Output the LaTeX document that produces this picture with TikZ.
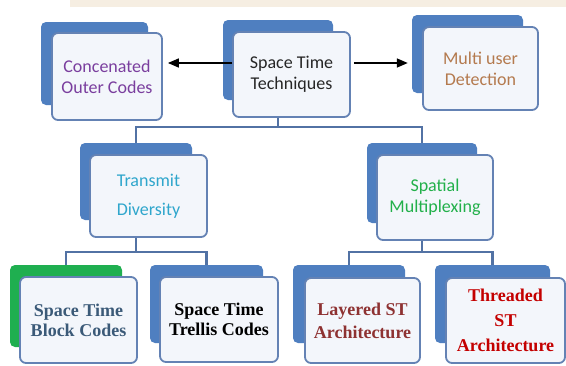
\documentclass[tikz,border=0pt]{standalone}
\usepackage{fontspec}
\setmainfont{Liberation Serif}
\newfontfamily\calfont{Carlito}
\usetikzlibrary{arrows.meta}

\definecolor{backblue}{HTML}{4F7FC0}
\definecolor{backgreen}{HTML}{1FAF50}
\definecolor{edgeblue}{HTML}{6482B4}
\definecolor{paleblue}{HTML}{F3F6FB}
\definecolor{linkblue}{HTML}{5272A4}
\definecolor{beige}{HTML}{F6EEE2}
\definecolor{purpletext}{HTML}{7A3E9E}
\definecolor{darktext}{HTML}{262626}
\definecolor{tantext}{HTML}{B47A4E}
\definecolor{cyantext}{HTML}{2FA6CC}
\definecolor{greentext}{HTML}{22B04A}
\definecolor{slatetext}{HTML}{3B5A78}
\definecolor{brickred}{HTML}{8E3232}
\definecolor{redtext}{HTML}{C40000}

\begin{document}
\begin{tikzpicture}[x=1pt,y=-1pt,
  backbox/.style={fill=backblue, rounded corners=5pt, inner sep=0pt},
  frontbox/.style={draw=edgeblue, line width=1.8pt, fill=paleblue, rounded corners=6pt, inner sep=0pt, align=center},
  sanstext/.style={font=\calfont\fontsize{18}{21}\selectfont},
  seriftext/.style={font=\bfseries\fontsize{18}{20}\selectfont},
  link/.style={draw=linkblue, line width=2.2pt},
  jump/.style={draw=black, line width=1.6pt, -{Triangle[length=11pt,width=9pt]}}
]

% page and faint top band
\useasboundingbox (0,0) rectangle (566,365);
\fill[white] (0,0) rectangle (566,365);
\fill[beige] (70,0) rectangle (566,7);

% top row
\node[backbox, minimum width=107, minimum height=83] (concb) at (94.5,63.5) {};
\node[frontbox, sanstext, text=purpletext, minimum width=110, minimum height=87] (conc) at (107,76.5) {Concenated\\Outer Codes};

\node[backbox, minimum width=110, minimum height=80] (sttb) at (278,60) {};
\node[frontbox, sanstext, text=darktext, minimum width=117, minimum height=85] (stt) at (291.5,74.5) {Space Time\\Techniques};

\node[backbox, minimum width=111, minimum height=78] (mudb) at (467.5,54) {};
\node[frontbox, sanstext, text=tantext, minimum width=115, minimum height=83] (mud) at (480.5,68.5) {Multi user\\Detection};

% arrows
\draw[jump, shorten >=5pt] ([yshift=11.5pt]stt.west) -- ([yshift=11.5pt]stt.west -| conc.east);
\draw[jump, shorten <=3pt, shorten >=4pt] ([yshift=11.5pt]stt.east) -- ([yshift=11.5pt]stt.east -| mudb.west);

% middle row
\node[backbox, minimum width=112, minimum height=77] (tdb) at (136,181.5) {};
\node[frontbox, sanstext, text=cyantext, minimum width=117, minimum height=82] (td) at (148.5,196) {Transmit\\[8pt]Diversity};

\node[backbox, minimum width=110, minimum height=80] (smb) at (422,183) {};
\node[frontbox, sanstext, text=greentext, minimum width=116, minimum height=85] (sm) at (435,197.5) {Spatial\\Multiplexing};

% bottom row
\node[backbox, fill=backgreen, minimum width=112, minimum height=82] (stbcb) at (66,306) {};
\node[frontbox, seriftext, text=slatetext, minimum width=117, minimum height=86] (stbc) at (78.5,320) {Space Time\\Block Codes};

\node[backbox, minimum width=113, minimum height=78] (sttcb) at (206.5,304) {};
\node[frontbox, seriftext, text=black, minimum width=118, minimum height=85] (sttc) at (219,319.5) {Space Time\\Trellis Codes};

\node[backbox, minimum width=112, minimum height=78] (lstb) at (349,304) {};
\node[frontbox, seriftext, text=brickred, minimum width=115, minimum height=85] (lst) at (362.5,320.5) {Layered ST\\[3pt]Architecture};

\node[backbox, minimum width=115, minimum height=78] (tstb) at (492.5,304) {};
\node[frontbox, seriftext, text=redtext, minimum width=119, minimum height=85] (tst) at (505.5,320.5) {Threaded\\[5pt]ST\\[5pt]Architecture};

% tree links
\coordinate (t1) at (278,127);
\draw[link] (sttb |- stt.south) -- (t1);
\draw[link] (tdb.north) |- (t1) -| (smb.north);

\coordinate (t2) at (136,252);
\draw[link] (tdb |- td.south) -- (t2);
\draw[link] (stbcb.north) |- (t2) -| (sttcb.north);

\coordinate (t3) at (422,252);
\draw[link] (smb |- sm.south) -- (t3);
\draw[link] (lstb.north) |- (t3) -| (tstb.north);

\end{tikzpicture}
\end{document}
